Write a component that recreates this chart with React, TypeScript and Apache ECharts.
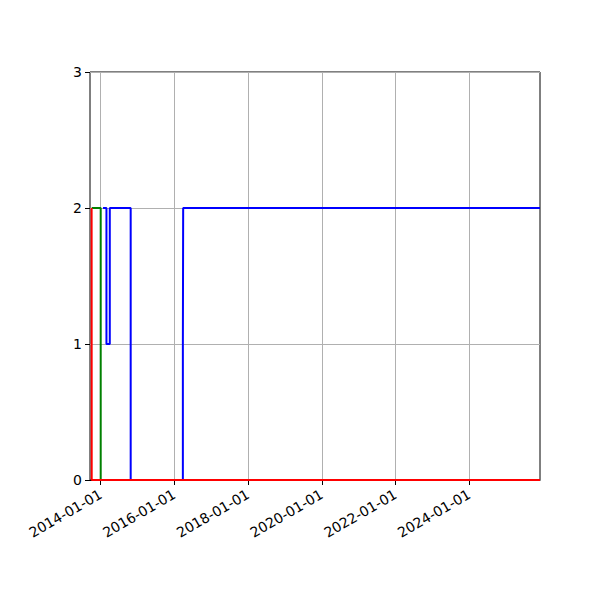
import { useEffect, useRef } from 'react';
import * as echarts from 'echarts';
import type { EChartsOption } from 'echarts';

// axis range and tick labels
const xMin = '2013-09-18';
const xMax = '2025-12-02';
const xTicks = ['2014-01-01', '2016-01-01', '2018-01-01', '2020-01-01', '2022-01-01', '2024-01-01'];
const yTicks = [0, 1, 2, 3];

// step series (value holds until the next date)
const greenDates = ['2013-10-05', '2014-01-02', '2025-12-02'];
const greenValues = [2, 0, 0];

const blueDates = ['2014-01-25', '2014-02-28', '2014-04-02', '2014-10-26', '2016-03-26', '2016-03-29', '2025-12-02'];
const blueValues = [2, 1, 2, 0, 1, 2, 2];

const redDates = ['2013-10-04', '2013-10-05', '2025-12-02'];
const redValues = [2, 0, 0];

const font = 'DejaVu Sans';
const toMs = (d: string) => new Date(d + 'T00:00:00Z').getTime();
const pairs = (dates: string[], values: number[]) => dates.map((d, i) => [toMs(d), values[i]]);

function stepSeries(name: string, color: string, data: number[][]) {
    return {
        name,
        type: 'line' as const,
        step: 'end' as const,
        data,
        showSymbol: false,
        lineStyle: { color, width: 2 },
        itemStyle: { color },
    };
}

export default function App() {
    const chartRef = useRef<HTMLDivElement>(null);

    useEffect(() => {
        if (!chartRef.current) return;
        const chart = echarts.init(chartRef.current, undefined, { renderer: 'svg' });

        const tickMs = xTicks.map(toMs);

        const option: EChartsOption = {
            animation: false,
            backgroundColor: '#fff',
            grid: {
                left: 90,
                right: 60,
                top: 72,
                bottom: 120,
                show: true,
                borderColor: '#000',
                borderWidth: 1,
                backgroundColor: 'transparent',
            },
            xAxis: {
                type: 'value',
                min: toMs(xMin),
                max: toMs(xMax),
                axisLine: { show: true, lineStyle: { color: '#000', width: 1 } },
                axisTick: { show: true, length: 5, customValues: tickMs, lineStyle: { color: '#000' } },
                axisLabel: {
                    customValues: tickMs,
                    rotate: 30,
                    margin: 13,
                    color: '#000',
                    fontFamily: font,
                    fontSize: 14,
                    showMinLabel: true,
                    showMaxLabel: true,
                    formatter: (v: number) => {
                        const d = new Date(v);
                        const mm = String(d.getUTCMonth() + 1).padStart(2, '0');
                        const dd = String(d.getUTCDate()).padStart(2, '0');
                        return `${d.getUTCFullYear()}-${mm}-${dd}`;
                    },
                },
                splitLine: { show: true, lineStyle: { color: '#b0b0b0', width: 1 } },
            },
            yAxis: {
                type: 'value',
                min: yTicks[0],
                max: yTicks[yTicks.length - 1],
                interval: 1,
                axisLine: { show: false },
                axisTick: { show: true, length: 5, lineStyle: { color: '#000' } },
                axisLabel: { color: '#000', fontFamily: font, fontSize: 14, margin: 8 },
                splitLine: { show: true, lineStyle: { color: '#b0b0b0', width: 1 } },
            },
            series: [
                stepSeries('green', '#008000', pairs(greenDates, greenValues)),
                stepSeries('blue', '#0000ff', pairs(blueDates, blueValues)),
                stepSeries('red', '#ff0000', pairs(redDates, redValues)),
            ],
        };

        chart.setOption(option);
        return () => chart.dispose();
    }, []);

    return (
        <div
            ref={chartRef}
            style={{ position: 'fixed', left: 0, top: 0, width: 600, height: 600 }}
        />
    );
}
